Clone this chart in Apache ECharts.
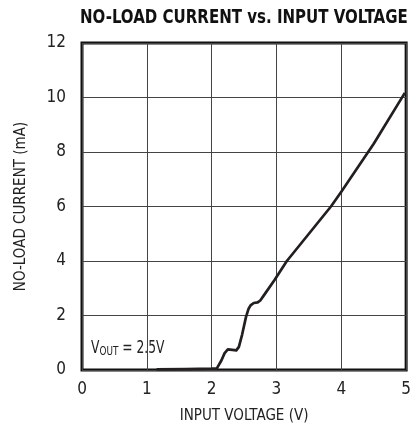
<!DOCTYPE html>
<html>
<head>
<meta charset="utf-8">
<script src="https://cdn.jsdelivr.net/npm/echarts@6/dist/echarts.min.js"></script>
<style>
  html, body { margin: 0; padding: 0; background: #fff; }
  #main { width: 414px; height: 431px; }
</style>
</head>
<body>
<div id="main"></div>
<script>
// input voltage (V) and no-load current (mA)
var inputVoltage = [1.15, 1.6, 2.0, 2.08, 2.11, 2.15, 2.2, 2.25, 2.32, 2.38, 2.42, 2.47, 2.53, 2.57, 2.6, 2.65, 2.71, 2.75, 2.8, 2.97, 3.16, 3.5, 3.84, 4.0, 4.5, 4.98];
var noLoadCurrent = [0.02, 0.03, 0.05, 0.06, 0.12, 0.35, 0.62, 0.76, 0.74, 0.72, 0.85, 1.3, 1.95, 2.25, 2.37, 2.46, 2.48, 2.55, 2.72, 3.3, 4.0, 5.0, 6.0, 6.54, 8.3, 10.17];
var xTicks = [0, 1, 2, 3, 4, 5];
var yTicks = [0, 2, 4, 6, 8, 10, 12];

var font = 'DejaVu Sans Condensed, Liberation Sans Narrow, sans-serif';

var points = [];
for (var i = 0; i < inputVoltage.length; i++) {
  points.push([inputVoltage[i], noLoadCurrent[i]]);
}

var myChart = echarts.init(document.getElementById('main'));

var option = {
  animation: false,
  grid: {
    left: 82, right: 7, top: 43, bottom: 61,
    show: true, borderColor: '#111', borderWidth: 3
  },
  xAxis: {
    type: 'value', min: 0, max: 5, interval: 1,
    name: 'INPUT VOLTAGE (V)', nameLocation: 'middle', nameGap: 39,
    nameTextStyle: { fontFamily: font, fontSize: 15, color: '#222' },
    axisLine: { show: false },
    axisTick: { show: false },
    axisLabel: {
      fontFamily: font, fontSize: 17, color: '#222', margin: 11,
      formatter: function (v) { return xTicks.indexOf(v) >= 0 ? String(v) : ''; }
    },
    splitLine: { lineStyle: { color: '#444', width: 1 } }
  },
  yAxis: {
    type: 'value', min: 0, max: 12, interval: 2,
    name: 'NO-LOAD CURRENT (mA)', nameLocation: 'middle', nameGap: 53,
    nameTextStyle: { fontFamily: font, fontSize: 15, color: '#222' },
    axisLine: { show: false },
    axisTick: { show: false },
    axisLabel: {
      fontFamily: font, fontSize: 17, color: '#222', margin: 16,
      formatter: function (v) { return yTicks.indexOf(v) >= 0 ? String(v) : ''; }
    },
    splitLine: { lineStyle: { color: '#444', width: 1 } }
  },
  graphic: [{
    // title, squeezed to mimic the condensed heavy face
    type: 'text',
    left: 80,
    top: 8,
    scaleX: 0.835,
    style: {
      text: 'NO-LOAD CURRENT vs. INPUT VOLTAGE',
      fontFamily: font, fontWeight: 'bold', fontSize: 20, fill: '#111'
    }
  }, {
    type: 'text',
    left: 91,
    top: 339,
    scaleX: 0.76,
    style: {
      text: '{a|V}{b|OUT}{a| = 2.5V}',
      rich: {
        a: { fontFamily: font, fontSize: 18, fill: '#222' },
        b: { fontFamily: font, fontSize: 13, fill: '#222', padding: [7, 0, 0, 0] }
      }
    }
  }],
  series: [{
    type: 'line',
    data: points,
    symbol: 'none',
    lineStyle: { color: '#231f20', width: 2.7, join: 'round' }
  }]
};

myChart.setOption(option);
</script>
</body>
</html>
